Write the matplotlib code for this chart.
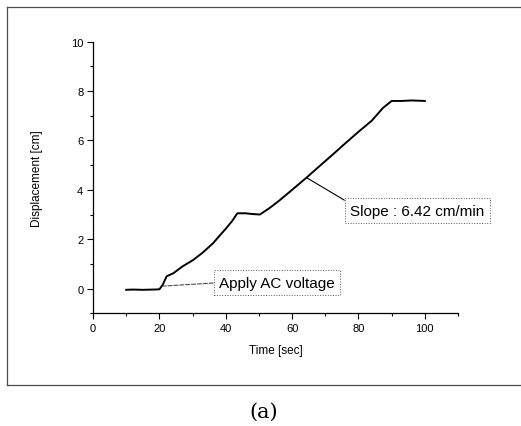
import matplotlib
matplotlib.use("Agg")
import matplotlib.pyplot as plt
from matplotlib.lines import Line2D
from matplotlib.ticker import MultipleLocator

plt.rcParams['font.family'] = ['Liberation Sans', 'DejaVu Sans']

# displacement vs time
time_s = [10, 12, 15, 18, 20, 21, 22.2, 24.2, 27, 30.2, 33, 36.2, 38, 40, 42, 43.5,
          46, 48, 50.3, 53.3, 56, 60, 64.4, 68, 72, 76, 80, 84, 87.4, 90, 93, 96, 100]
disp_cm = [-0.05, -0.04, -0.05, -0.04, -0.03, 0.15, 0.5, 0.62, 0.9, 1.16, 1.45, 1.84, 2.12,
           2.42, 2.75, 3.05, 3.05, 3.02, 3.0, 3.27, 3.55, 4.0, 4.5, 4.93, 5.4, 5.88, 6.35,
           6.8, 7.32, 7.6, 7.6, 7.62, 7.6]

xticks = [0, 20, 40, 60, 80, 100]
yticks = [0, 2, 4, 6, 8, 10]

fig = plt.figure(figsize=(5.21, 4.27), dpi=100)
ax = fig.add_axes([0.1785, 0.264, 0.7006, 0.636])

ax.plot(time_s, disp_cm, color='black', lw=1.4)

ax.set_xlim(0, 110)
ax.set_ylim(-1, 10)
ax.set_xticks(xticks)
ax.set_yticks(yticks)
ax.xaxis.set_minor_locator(MultipleLocator(10))
ax.yaxis.set_minor_locator(MultipleLocator(1))
ax.tick_params(which='major', direction='out', length=4, width=0.8, labelsize=8, pad=3)
ax.tick_params(which='minor', direction='out', length=2, width=0.8)
for s in ['top', 'right']:
    ax.spines[s].set_visible(False)
for s in ['left', 'bottom']:
    ax.spines[s].set_linewidth(0.9)

ax.set_xlabel('Time [sec]', fontsize=8.5, labelpad=8)
ax.set_ylabel('Displacement [cm]', fontsize=8.5, labelpad=20)

box = dict(boxstyle='square,pad=0.35', fc='white', ec='0.35', lw=0.7, ls=':')
ax.annotate('Apply AC voltage', xy=(21, 0.1), xytext=(55.4, 0.24),
            ha='center', va='center', fontsize=11, bbox=box,
            arrowprops=dict(arrowstyle='-', color='0.3', lw=0.8, ls='--',
                            relpos=(0, 0.5), shrinkA=0, shrinkB=0))
ax.annotate('Slope : 6.42 cm/min', xy=(64.4, 4.49), xytext=(97.7, 3.16),
            ha='center', va='center', fontsize=11, bbox=box,
            arrowprops=dict(arrowstyle='-', color='black', lw=0.8,
                            relpos=(0, 1), shrinkA=0, shrinkB=0))

# outer frame
fx0, fx1, fy0, fy1 = 7 / 521, 1.0, (427 - 386) / 427, (427 - 8) / 427
for xs, ys in [([fx0, fx0], [fy0, fy1]), ([fx0, fx1], [fy1, fy1]), ([fx0, fx1], [fy0, fy0])]:
    fig.add_artist(Line2D(xs, ys, color='0.3', lw=0.9, transform=fig.transFigure))

fig.text(264 / 521, 1 - 412 / 427, '(a)', ha='center', va='center',
         fontsize=15, family='DejaVu Serif')

fig.savefig('out.png', dpi=100)
